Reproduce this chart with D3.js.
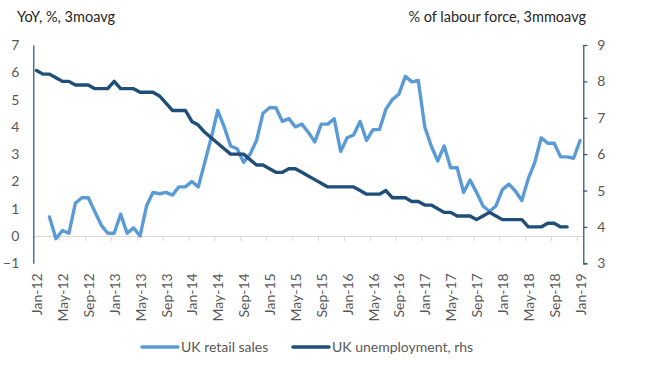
<!DOCTYPE html>
<html>
<head>
<meta charset="utf-8">
<script src="https://cdn.jsdelivr.net/npm/d3@7"></script>
<style>
  body { margin: 0; background: #fff; }
  svg text { font-family: Lato, "Open Sans", sans-serif; }
</style>
</head>
<body>
<script>
var width = 647,
    height = 374;

// monthly categories, Jan-12 .. Jan-19
var months = d3.timeMonths(new Date(2012, 0, 1), new Date(2019, 1, 1));
var tickLabels = ["Jan-12","May-12","Sep-12","Jan-13","May-13","Sep-13","Jan-14","May-14","Sep-14",
  "Jan-15","May-15","Sep-15","Jan-16","May-16","Sep-16","Jan-17","May-17","Sep-17",
  "Jan-18","May-18","Sep-18","Jan-19"];

// UK retail sales, YoY %, 3m avg (lhs)
var retail = [null, null, 0.7, -0.1, 0.2, 0.1, 1.2, 1.4, 1.4, 0.9, 0.4, 0.1,
  0.1, 0.8, 0.1, 0.3, 0.0, 1.1, 1.6, 1.55, 1.6, 1.5, 1.8, 1.8,
  2.0, 1.8, 2.7, 3.6, 4.6, 4.0, 3.3, 3.2, 2.7, 3.0, 3.5, 4.5,
  4.7, 4.7, 4.2, 4.3, 4.0, 4.1, 3.8, 3.45, 4.1, 4.1, 4.3, 3.1,
  3.6, 3.7, 4.2, 3.5, 3.9, 3.9, 4.65, 5.0, 5.2, 5.85, 5.65, 5.7,
  4.0, 3.3, 2.75, 3.3, 2.5, 2.5, 1.6, 2.05, 1.6, 1.1, 0.9, 1.1,
  1.7, 1.9, 1.65, 1.3, 2.1, 2.7, 3.6, 3.4, 3.4, 2.9, 2.9, 2.85,
  3.5];

// UK unemployment, % of labour force, 3m avg (rhs)
var unemployment = [8.3, 8.2, 8.2, 8.1, 8.0, 8.0, 7.9, 7.9, 7.9, 7.8, 7.8, 7.8,
  8.0, 7.8, 7.8, 7.8, 7.7, 7.7, 7.7, 7.6, 7.4, 7.2, 7.2, 7.2,
  6.9, 6.8, 6.6, 6.45, 6.3, 6.15, 6.0, 6.0, 6.0, 5.85, 5.7, 5.7,
  5.6, 5.5, 5.5, 5.6, 5.6, 5.5, 5.4, 5.3, 5.2, 5.1, 5.1, 5.1,
  5.1, 5.1, 5.0, 4.9, 4.9, 4.9, 5.0, 4.8, 4.8, 4.8, 4.7, 4.7,
  4.6, 4.6, 4.5, 4.4, 4.4, 4.3, 4.3, 4.3, 4.2, 4.3, 4.4, 4.3,
  4.2, 4.2, 4.2, 4.2, 4.0, 4.0, 4.0, 4.1, 4.1, 4.0, 4.0, null,
  null];

var leftTicks = [-1, 0, 1, 2, 3, 4, 5, 6, 7];
var rightTicks = [3, 4, 5, 6, 7, 8, 9];

var lightBlue = "#5b9bd5",
    darkBlue = "#1f4e79",
    labelGrey = "#595959";

// plot box (window.top is reserved, so prefixed names)
var pLeft = 33.3, pRight = 583.3, pTop = 45, pBottom = 263.3;

var svg = d3.select("body").append("svg")
    .attr("width", width)
    .attr("height", height);

var x = d3.scaleBand()
    .domain(d3.range(months.length))
    .range([pLeft, pRight])
    .paddingInner(0)
    .paddingOuter(0);

var xEdge = d3.scaleLinear()
    .domain([0, months.length])
    .range([pLeft, pRight]);

var yL = d3.scaleLinear().domain([-1, 7]).range([pBottom, pTop]);
var yR = d3.scaleLinear().domain([3, 9]).range([pBottom, pTop]);

function cx(i) { return x(i) + x.bandwidth() / 2; }

// category axis along zero of lhs
var axisY = yL(0);
var xTicks = svg.append("g")
    .attr("transform", "translate(0," + axisY + ")")
    .call(d3.axisBottom(xEdge)
        .tickValues(d3.range(0, months.length + 1, 4))
        .tickSize(5)
        .tickSizeOuter(0)
        .tickFormat(""));
xTicks.select(".domain").attr("stroke", "#d9d9d9");
xTicks.selectAll(".tick line").attr("stroke", "#d9d9d9");

// month labels under the plot
var labelIdx = d3.range(0, months.length, 4);
var xLabels = svg.append("g")
    .attr("transform", "translate(0," + pBottom + ")")
    .call(d3.axisBottom(x)
        .tickValues(labelIdx)
        .tickSize(0)
        .tickFormat(function(i) { return tickLabels[labelIdx.indexOf(i)]; }));
xLabels.select(".domain").remove();
xLabels.selectAll("text")
    .attr("transform", "rotate(-90)")
    .attr("text-anchor", "end")
    .attr("x", -10)
    .attr("y", 0)
    .attr("dy", "0.4em")
    .attr("fill", labelGrey)
    .style("font-size", "14px");

// left axis
var gL = svg.append("g")
    .attr("transform", "translate(" + pLeft + ",0)")
    .call(d3.axisLeft(yL).tickValues(leftTicks).tickFormat(d3.format("d")).tickSize(0).tickPadding(14));
gL.select(".domain").attr("stroke", darkBlue).attr("stroke-width", 1.2);
gL.selectAll("text").attr("fill", labelGrey).style("font-size", "14px");

// right axis
var gR = svg.append("g")
    .attr("transform", "translate(" + pRight + ",0)")
    .call(d3.axisRight(yR).tickValues(rightTicks).tickFormat(d3.format("d"))
        .tickSize(4).tickSizeOuter(4).tickPadding(10));
gR.select(".domain").attr("stroke", darkBlue).attr("stroke-width", 1.2);
gR.selectAll(".tick line").attr("stroke", darkBlue).attr("stroke-width", 1.2);
gR.selectAll("text").attr("fill", labelGrey).style("font-size", "14px");

// series
var lineL = d3.line()
    .defined(function(d) { return d != null; })
    .x(function(d, i) { return cx(i); })
    .y(function(d) { return yL(d); });

var lineR = d3.line()
    .defined(function(d) { return d != null; })
    .x(function(d, i) { return cx(i); })
    .y(function(d) { return yR(d); });

svg.append("path")
    .datum(retail)
    .attr("fill", "none")
    .attr("stroke", lightBlue)
    .attr("stroke-width", 3.4)
    .attr("stroke-linejoin", "round")
    .attr("stroke-linecap", "round")
    .attr("d", lineL);

svg.append("path")
    .datum(unemployment)
    .attr("fill", "none")
    .attr("stroke", darkBlue)
    .attr("stroke-width", 3.4)
    .attr("stroke-linejoin", "round")
    .attr("stroke-linecap", "round")
    .attr("d", lineR);

// axis titles
svg.append("text")
    .attr("x", 17).attr("y", 22)
    .attr("fill", "#262626")
    .style("font-size", "14.5px")
    .text("YoY, %, 3moavg");

svg.append("text")
    .attr("x", 586).attr("y", 22)
    .attr("text-anchor", "end")
    .attr("fill", "#262626")
    .style("font-size", "14.5px")
    .text("% of labour force, 3mmoavg");

// legend
var legend = [
  {name: "UK retail sales", color: lightBlue, x: 142},
  {name: "UK unemployment, rhs", color: darkBlue, x: 293}
];
var lg = svg.append("g").selectAll("g")
    .data(legend)
    .enter().append("g")
    .attr("transform", function(d) { return "translate(" + d.x + ",347)"; });
lg.append("line")
    .attr("x1", 0).attr("x2", 36)
    .attr("stroke", function(d) { return d.color; })
    .attr("stroke-width", 3.4)
    .attr("stroke-linecap", "round");
lg.append("text")
    .attr("x", 39).attr("y", 5)
    .attr("fill", labelGrey)
    .style("font-size", "14px")
    .text(function(d) { return d.name; });
</script>
</body>
</html>
